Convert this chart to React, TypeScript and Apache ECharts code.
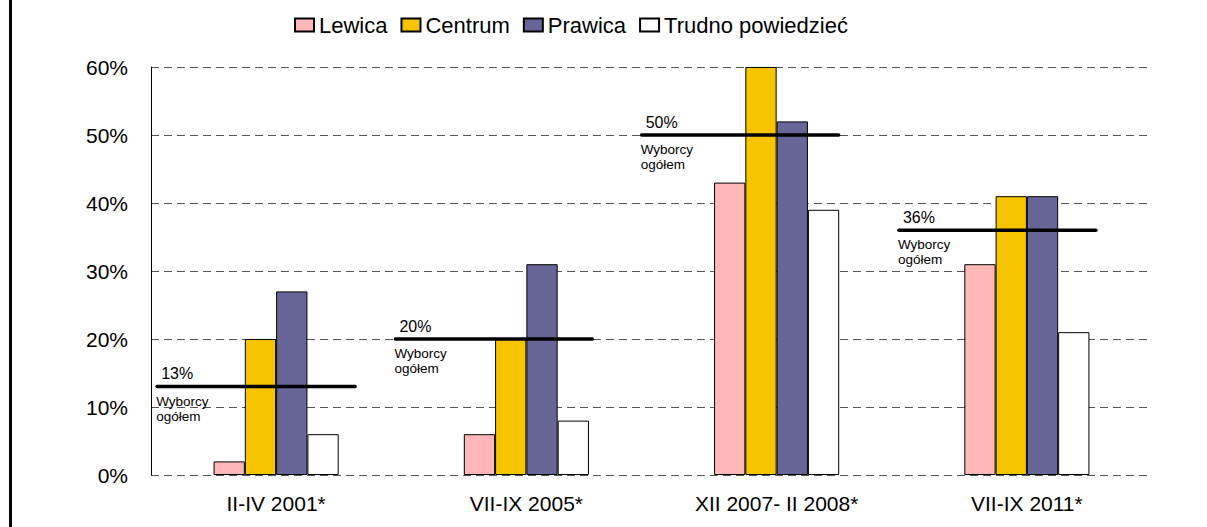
import React, { useEffect, useRef } from "react";
import * as echarts from "echarts";

const categories = ["II-IV 2001*", "VII-IX 2005*", "XII 2007- II 2008*", "VII-IX 2011*"];
const lewica = [2, 6, 43, 31];
const centrum = [20, 20, 60, 41];
const prawica = [27, 31, 52, 41];
const trudno = [6, 8, 39, 21];
const wyborcy = [13, 20, 50, 36];
const seriesNames = ["Lewica", "Centrum", "Prawica", "Trudno powiedzieć"];
const yTicks = [0, 10, 20, 30, 40, 50, 60];

// layout: horizontal extent of the "Wyborcy ogółem" line relative to the category centre
const LINE_SPAN: number[][] = [
  [-119, 79],
  [-131, 66],
  [-135, 62],
  [-128, 69],
];

const FONT = "'Liberation Sans', Arial, sans-serif";

export default function App() {
  const ref = useRef<HTMLDivElement>(null);
  useEffect(() => {
    if (!ref.current) return;
    const chart = echarts.init(ref.current, undefined, { renderer: "svg" });
    const colors = ["#FFB7B7", "#F7C500", "#666699", "#FFFFFF"];
    const values = [lewica, centrum, prawica, trudno];
    const barSeries = seriesNames.map((name, i) => ({
      name,
      type: "bar",
      data: values[i],
      barGap: "0%",
      barCategoryGap: "50%",
      itemStyle: { color: colors[i], borderColor: "#000", borderWidth: 1 },
      z: 2,
    }));
    chart.setOption({
      animation: false,
      backgroundColor: "#fff",
      textStyle: { fontFamily: FONT, color: "#000" },
      graphic: [
        { type: "rect", shape: { x: 9, y: 0, width: 3, height: 527 }, style: { fill: "#000" }, z: 10 },
      ],
      legend: {
        data: seriesNames,
        left: 289,
        top: 9,
        itemWidth: 19,
        itemHeight: 13,
        itemGap: 13,
        icon: "rect",
        textStyle: { fontSize: 22, color: "#000", fontFamily: FONT },
      },
      grid: { left: 151, right: 55, top: 67, bottom: 52, containLabel: false },
      xAxis: {
        type: "category",
        data: categories,
        axisLine: { show: false },
        axisTick: { show: false },
        axisLabel: { fontSize: 21, color: "#000", margin: 18, fontFamily: FONT },
      },
      yAxis: {
        type: "value",
        min: yTicks[0],
        max: yTicks[yTicks.length - 1],
        interval: 10,
        axisLine: { show: true, lineStyle: { color: "#000", width: 1 } },
        axisTick: { show: false },
        axisLabel: { formatter: "{value}%", fontSize: 21, color: "#000", margin: 23, fontFamily: FONT },
        splitLine: { show: true, lineStyle: { color: "#555", width: 1, type: [8, 5] } },
      },
      series: [
        ...barSeries,
        {
          type: "custom",
          name: "Wyborcy ogółem",
          z: 5,
          data: wyborcy.map((v, i) => [i, v]),
          renderItem: (params: any, api: any) => {
            const idx = api.value(0);
            const v = api.value(1);
            const p = api.coord([idx, v]);
            const span = LINE_SPAN[idx];
            const xs = p[0] + span[0];
            const xe = p[0] + span[1];
            return {
              type: "group",
              children: [
                {
                  type: "line",
                  shape: { x1: xs, y1: p[1], x2: xe, y2: p[1] },
                  style: { stroke: "#000", lineWidth: 3.5, lineCap: "round" },
                },
                {
                  type: "text",
                  x: xs + 4,
                  y: p[1] - 5,
                  style: { text: v + "%", fontSize: 16, fill: "#000", fontFamily: FONT, align: "left", verticalAlign: "bottom" },
                },
                {
                  type: "text",
                  x: xs - 1,
                  y: p[1] + 7,
                  style: { text: "Wyborcy\nogółem", fontSize: 13.5, lineHeight: 15, fill: "#000", fontFamily: FONT, align: "left", verticalAlign: "top" },
                },
              ],
            };
          },
        },
      ],
    });
    return () => chart.dispose();
  }, []);
  return (
    <div
      ref={ref}
      style={{ position: "fixed", left: 0, top: 0, width: 1207, height: 527, background: "#fff" }}
    />
  );
}
